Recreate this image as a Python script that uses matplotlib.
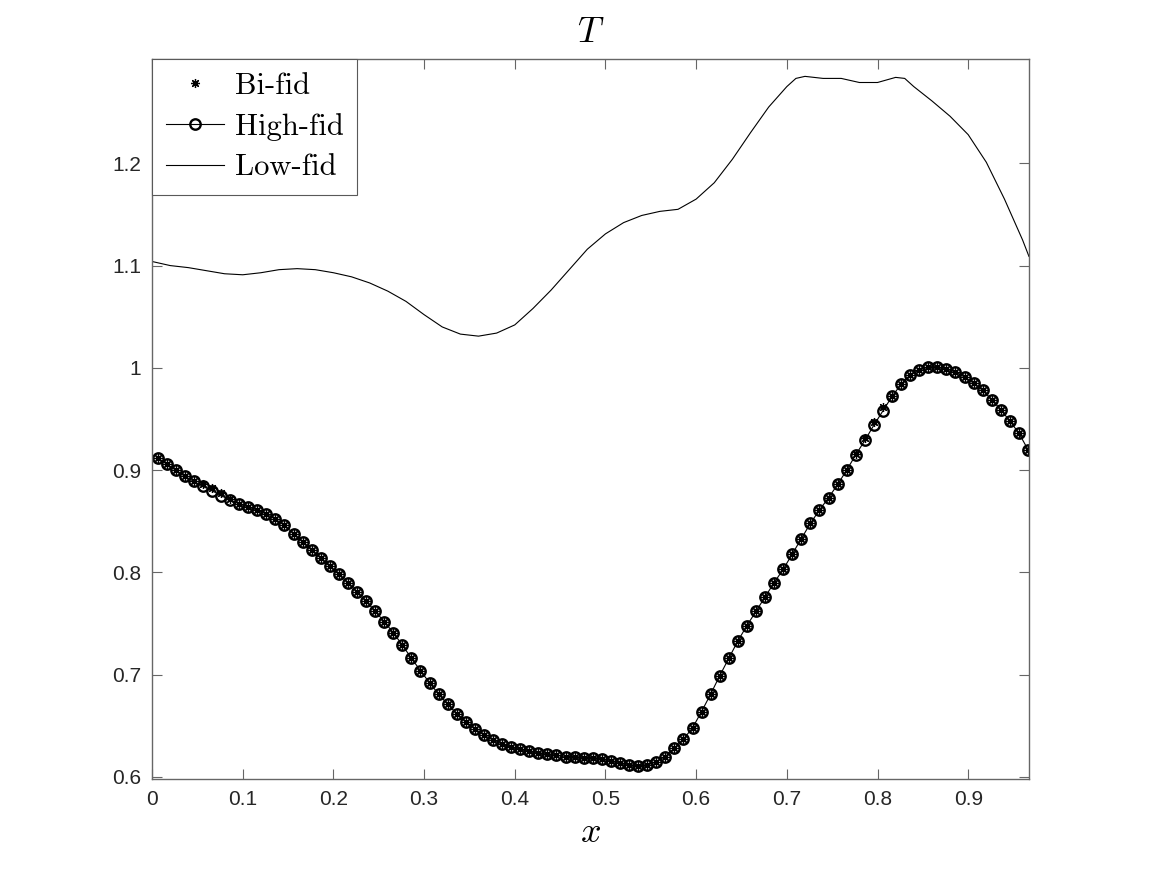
import numpy as np
import matplotlib.pyplot as plt

plt.rcParams['mathtext.fontset'] = 'cm'
plt.rcParams['font.family'] = ['Liberation Sans', 'DejaVu Sans']

# high-fidelity samples (x = 0.006 + 0.01*i)
high_fid = [0.912, 0.906, 0.900, 0.894, 0.889, 0.884, 0.880, 0.875, 0.871, 0.867,
            0.864, 0.861, 0.857, 0.852, 0.846, 0.838, 0.830, 0.822, 0.814, 0.806,
            0.798, 0.790, 0.781, 0.772, 0.762, 0.752, 0.741, 0.729, 0.716, 0.704,
            0.692, 0.681, 0.671, 0.662, 0.654, 0.647, 0.641, 0.636, 0.632, 0.629,
            0.627, 0.625, 0.623, 0.622, 0.621, 0.620, 0.620, 0.619, 0.619, 0.618,
            0.616, 0.614, 0.612, 0.611, 0.612, 0.615, 0.620, 0.628, 0.637, 0.648,
            0.664, 0.681, 0.699, 0.716, 0.733, 0.748, 0.762, 0.776, 0.790, 0.803,
            0.818, 0.833, 0.848, 0.861, 0.873, 0.886, 0.900, 0.915, 0.929, 0.944,
            0.958, 0.972, 0.984, 0.993, 0.998, 1.001, 1.001, 0.999, 0.996, 0.991,
            0.985, 0.978, 0.969, 0.959, 0.948, 0.936, 0.920]

bi_fid = [0.912, 0.906, 0.900, 0.894, 0.889, 0.886, 0.883, 0.878, 0.872, 0.867,
          0.864, 0.861, 0.857, 0.852, 0.846, 0.838, 0.830, 0.822, 0.814, 0.806,
          0.798, 0.790, 0.781, 0.772, 0.762, 0.752, 0.741, 0.729, 0.716, 0.704,
          0.692, 0.681, 0.671, 0.662, 0.654, 0.647, 0.641, 0.636, 0.632, 0.629,
          0.627, 0.625, 0.623, 0.622, 0.621, 0.620, 0.620, 0.619, 0.619, 0.618,
          0.616, 0.614, 0.612, 0.611, 0.612, 0.615, 0.620, 0.628, 0.637, 0.648,
          0.664, 0.681, 0.699, 0.716, 0.733, 0.748, 0.762, 0.776, 0.790, 0.803,
          0.818, 0.833, 0.848, 0.861, 0.873, 0.886, 0.900, 0.916, 0.931, 0.947,
          0.962, 0.972, 0.984, 0.993, 0.998, 1.001, 1.001, 0.999, 0.996, 0.991,
          0.985, 0.978, 0.969, 0.959, 0.948, 0.936, 0.920]

x_low = [0.0, 0.02, 0.04, 0.06, 0.08, 0.10, 0.12, 0.14, 0.16, 0.18,
         0.20, 0.22, 0.24, 0.26, 0.28, 0.30, 0.32, 0.34, 0.36, 0.38,
         0.40, 0.42, 0.44, 0.46, 0.48, 0.50, 0.52, 0.54, 0.56, 0.58,
         0.60, 0.62, 0.64, 0.66, 0.68, 0.70, 0.71, 0.72, 0.74, 0.76,
         0.78, 0.80, 0.82, 0.83, 0.84, 0.86, 0.88, 0.90, 0.92, 0.94,
         0.96, 0.967]
low_fid = [1.104, 1.100, 1.098, 1.095, 1.092, 1.091, 1.093, 1.096, 1.097, 1.096,
           1.093, 1.089, 1.083, 1.075, 1.065, 1.052, 1.040, 1.033, 1.031, 1.034,
           1.042, 1.058, 1.076, 1.096, 1.116, 1.131, 1.142, 1.149, 1.153, 1.155,
           1.165, 1.181, 1.204, 1.230, 1.255, 1.275, 1.283, 1.285, 1.283, 1.283,
           1.279, 1.279, 1.284, 1.283, 1.275, 1.261, 1.246, 1.228, 1.201, 1.165,
           1.125, 1.109]

x_hi = 0.006 + 0.01 * np.arange(len(high_fid))

fig = plt.figure(figsize=(11.67, 8.75), dpi=100)
ax = fig.add_axes([0.1303, 0.1097, 0.7514, 0.8229])

ax.plot(x_hi, bi_fid, linestyle='none', marker=(8, 2, 0), markersize=6.5,
        markeredgewidth=0.9, color='k', label='Bi-fid')
ax.plot(x_hi, high_fid, '-o', color='k', linewidth=0.8, markersize=7.5,
        markerfacecolor='none', markeredgewidth=1.7, label='High-fid')
ax.plot(x_low, low_fid, '-', color='k', linewidth=0.8, label='Low-fid')

ax.set_xlim(0, 0.967)
ax.set_ylim(0.598, 1.302)
ax.set_xticks(np.arange(0, 0.91, 0.1))
ax.set_xticklabels(['0', '0.1', '0.2', '0.3', '0.4', '0.5', '0.6', '0.7', '0.8', '0.9'])
ax.set_yticks([0.6, 0.7, 0.8, 0.9, 1.0, 1.1, 1.2])
ax.set_yticklabels(['0.6', '0.7', '0.8', '0.9', '1', '1.1', '1.2'])
ax.tick_params(direction='in', top=True, right=True, length=7, width=0.8,
               colors='0.4', labelcolor='#262626', labelsize=15, pad=8)
for s in ax.spines.values():
    s.set_color('0.4')
    s.set_linewidth(1.0)

ax.set_title('$T$', fontsize=26, pad=12)
ax.set_xlabel('$x$', fontsize=26, labelpad=4)

leg = ax.legend(loc='upper left', fancybox=False,
                prop={'family': 'cmr10', 'size': 22}, numpoints=1,
                handlelength=1.9, handletextpad=0.35, labelspacing=0.42,
                borderpad=0.45, borderaxespad=0, framealpha=1)
leg.get_frame().set_edgecolor('0.35')
leg.get_frame().set_linewidth(0.8)

fig.savefig('out.png', dpi=100)
